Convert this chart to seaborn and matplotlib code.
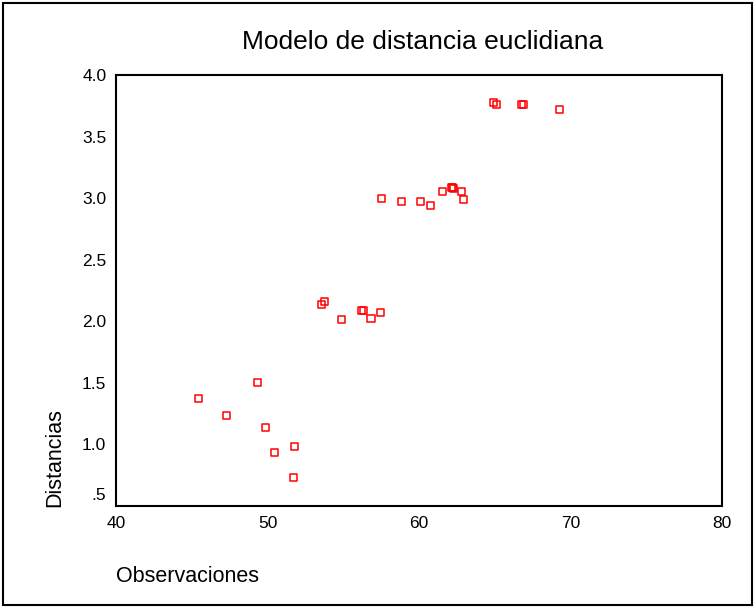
import matplotlib
matplotlib.use('Agg')
import matplotlib.pyplot as plt
import seaborn as sns
import pandas as pd
from matplotlib.patches import Rectangle
from matplotlib.transforms import ScaledTranslation

# values
observaciones = [45.43, 47.29, 49.35, 49.86, 50.46, 51.80, 51.69,
                 53.55, 53.75, 54.88, 56.22, 56.32, 56.83, 57.44,
                 57.53, 58.87, 60.09, 60.78, 61.53, 62.12, 62.20, 62.30,
                 62.78, 62.96, 64.93, 65.14, 66.75, 66.88, 69.30]
distancias = [1.375, 1.237, 1.502, 1.136, 0.933, 0.982, 0.730,
              2.138, 2.163, 2.011, 2.087, 2.087, 2.022, 2.073,
              3.000, 2.975, 2.975, 2.940, 3.051, 3.089, 3.085, 3.075,
              3.051, 2.988, 3.774, 3.763, 3.763, 3.763, 3.722]

x_ticks = [40, 50, 60, 70, 80]
y_ticks = [0.5, 1.0, 1.5, 2.0, 2.5, 3.0, 3.5, 4.0]
y_tick_labels = ['.5', '1.0', '1.5', '2.0', '2.5', '3.0', '3.5', '4.0']

df = pd.DataFrame({'Observaciones': observaciones, 'Distancias': distancias})

sns.set_theme(style='white')
plt.rcParams['font.family'] = ['Liberation Sans', 'DejaVu Sans']

fig = plt.figure(figsize=(7.55, 6.07), dpi=100)
ax = fig.add_axes([116 / 755, 1 - 506 / 607, 606 / 755, 431 / 607])

sns.scatterplot(data=df, x='Observaciones', y='Distancias', ax=ax,
                marker='s', s=26, facecolor='none', edgecolor='red',
                linewidth=1.1)

ax.set_xlim(40, 80)
ax.set_ylim(0.5, 4.0)
ax.set_xticks(x_ticks)
ax.set_yticks(y_ticks)
ax.set_yticklabels(y_tick_labels)
ax.tick_params(axis='both', direction='out', length=3, width=2.2,
               color='black', labelsize=12.5, labelcolor='black', pad=4)
for sp in ax.spines.values():
    sp.set_visible(True)
    sp.set_color('black')
    sp.set_linewidth(1.5)

# the ".5" label sits a little above its tick in the original
first = ax.yaxis.get_major_ticks()[0].label1
first.set_transform(first.get_transform() +
                    ScaledTranslation(0, 0.12, fig.dpi_scale_trans))

ax.set_xlabel('')
ax.set_ylabel('')
ax.set_title('')

fig.text(423 / 755, 1 - 42 / 607, 'Modelo de distancia euclidiana',
         ha='center', va='center', fontsize=19, color='black')
fig.text(116 / 755, 1 - 577 / 607, 'Observaciones',
         ha='left', va='center', fontsize=15.5, color='black')
fig.text(55 / 755, 1 - 507 / 607, 'Distancias', rotation=90,
         ha='center', va='bottom', fontsize=15.5, color='black')

# outer frame around the whole picture
fig.patches.append(Rectangle((3 / 755, 2 / 607), 749 / 755, 602 / 607,
                             transform=fig.transFigure, fill=False,
                             edgecolor='black', linewidth=1.5))

fig.savefig('out.png', dpi=100)
